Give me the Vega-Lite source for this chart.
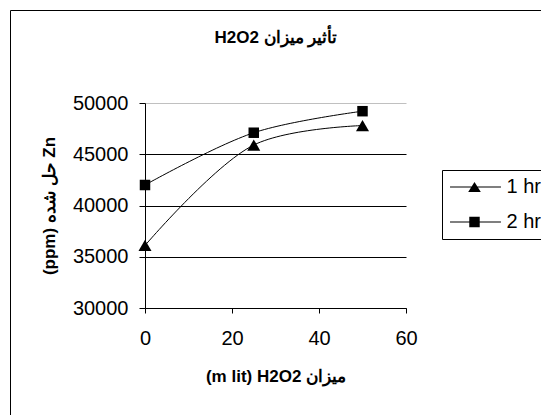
{
  "$schema": "https://vega.github.io/schema/vega-lite/v6.json",
  "width": 532,
  "height": 406,
  "autosize": {"type": "none"},
  "padding": {"left": 10, "top": 10, "right": -1, "bottom": -1},
  "background": "white",
  "title": {
    "text": "H2O2 تأثیر میزان",
    "anchor": "middle",
    "frame": "group",
    "baseline": "alphabetic",
    "offset": -31,
    "dy": 19,
    "fontSize": 17,
    "fontWeight": "bold",
    "color": "black"
  },
  "data": {
    "values": [
      {"series": "1 hr", "h2o2": 0, "zn": 36100},
      {"series": "1 hr", "h2o2": 25, "zn": 45900},
      {"series": "1 hr", "h2o2": 50, "zn": 47800},
      {"series": "2 hr", "h2o2": 0, "zn": 42000},
      {"series": "2 hr", "h2o2": 25, "zn": 47100},
      {"series": "2 hr", "h2o2": 50, "zn": 49200}
    ]
  },
  "encoding": {
    "x": {
      "field": "h2o2",
      "type": "quantitative",
      "scale": {"domain": [0, 60], "range": [135, 396], "nice": false, "zero": false},
      "axis": {
        "orient": "bottom",
        "offset": -108,
        "values": [0, 20, 40, 60],
        "grid": false,
        "labelFlush": false,
        "tickSize": 5,
        "labelPadding": 15,
        "title": "(m lit) H2O2 میزان",
        "titlePadding": 20
      }
    },
    "y": {
      "field": "zn",
      "type": "quantitative",
      "scale": {"domain": [30000, 50000], "range": [298, 93], "nice": false, "zero": false},
      "axis": {
        "orient": "left",
        "offset": -135,
        "values": [30000, 35000, 40000, 45000, 50000],
        "format": "d",
        "grid": true,
        "labelFlush": false,
        "gridColor": {"condition": {"test": "datum.value === 50000", "value": "#c0c0c0"}, "value": "black"},
        "tickSize": 6,
        "labelPadding": 11,
        "title": "(ppm) حل شده Zn",
        "titlePadding": 14
      }
    }
  },
  "layer": [
    {
      "mark": {"type": "line", "interpolate": "catmull-rom", "color": "black", "strokeWidth": 1},
      "encoding": {"detail": {"field": "series"}}
    },
    {
      "transform": [{"filter": "datum.series === '1 hr'"}],
      "mark": {"type": "point", "shape": "triangle-up", "filled": true, "color": "black", "opacity": 1, "size": 170}
    },
    {
      "transform": [{"filter": "datum.series === '2 hr'"}],
      "mark": {"type": "point", "shape": "square", "filled": true, "color": "black", "opacity": 1, "size": 110}
    },
    {
      "transform": [{"filter": "false"}],
      "mark": {"type": "point", "filled": true, "color": "black", "opacity": 1, "size": 324},
      "encoding": {
        "shape": {
          "field": "series",
          "type": "nominal",
          "scale": {
            "domain": ["1 hr", "2 hr"],
            "range": [
              "M-2.72,-0.056H2.94V0.056H-2.72ZM0,-0.56L0.7,0.56L-0.7,0.56Z",
              "M-2.72,-0.056H2.94V0.056H-2.72ZM-0.58,-0.58H0.58V0.58H-0.58Z"
            ]
          },
          "legend": {
            "orient": "none",
            "legendX": 432,
            "legendY": 160,
            "title": null,
            "strokeColor": "black",
            "padding": 7,
            "rowPadding": 15,
            "symbolOffset": 15.5,
            "labelOffset": 22,
            "labelFontSize": 20,
            "labelColor": "black",
            "symbolSize": 324,
            "symbolStrokeWidth": 0,
            "symbolFillColor": "black"
          }
        }
      }
    }
  ],
  "config": {
    "font": "Liberation Sans",
    "view": {"stroke": "black", "strokeWidth": 1},
    "axis": {
      "domainColor": "black",
      "domainWidth": 1,
      "tickColor": "black",
      "tickWidth": 1,
      "gridWidth": 1,
      "labelFontSize": 20,
      "labelColor": "black",
      "labelFontWeight": "normal",
      "titleFontSize": 17,
      "titleFontWeight": "bold",
      "titleColor": "black"
    }
  }
}
